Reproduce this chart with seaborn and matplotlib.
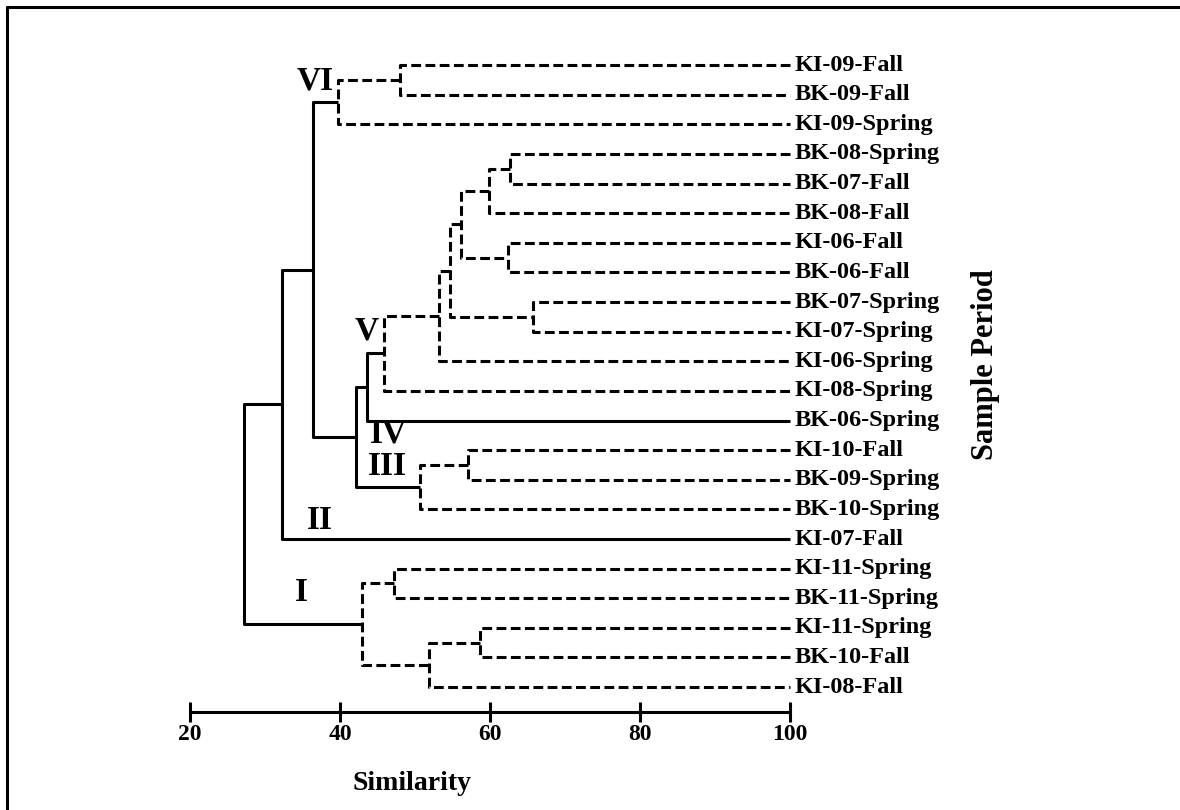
import numpy as np
import pandas as pd
import matplotlib
matplotlib.use("Agg")
import matplotlib.pyplot as plt
from matplotlib.lines import Line2D
import seaborn as sns

# ---------------- data ----------------
leaf_labels = [
    "KI-09-Fall", "BK-09-Fall", "KI-09-Spring", "BK-08-Spring", "BK-07-Fall",
    "BK-08-Fall", "KI-06-Fall", "BK-06-Fall", "BK-07-Spring", "KI-07-Spring",
    "KI-06-Spring", "KI-08-Spring", "BK-06-Spring", "KI-10-Fall", "BK-09-Spring",
    "BK-10-Spring", "KI-07-Fall", "KI-11-Spring", "BK-11-Spring", "KI-11-Spring",
    "BK-10-Fall", "KI-08-Fall",
]
# merges: node ids 22.. in order; children refer to leaf index (<22) or node id
merge_left = [0, 22, 3, 24, 6, 25, 8, 27, 29, 30, 31, 13, 33, 32, 23, 36, 17, 19, 39, 38, 37]
merge_right = [1, 2, 4, 5, 7, 26, 9, 28, 10, 11, 12, 14, 15, 34, 35, 16, 18, 20, 21, 40, 41]
merge_similarity = [48.0, 39.7, 62.7, 59.8, 62.4, 56.1, 65.7, 54.7, 53.2, 45.8, 43.6,
                    57.1, 50.7, 42.1, 36.4, 32.3, 47.2, 58.7, 51.9, 42.9, 27.2]
merge_kind = ["dashed", "dashed", "dashed", "dashed", "dashed", "dashed", "dashed",
              "dashed", "dashed", "dashed", "solid", "dashed", "dashed", "solid",
              "solid", "solid", "dashed", "dashed", "dashed", "dashed", "solid"]
cluster_names = ["VI", "V", "IV", "III", "II", "I"]
x_ticks = [20, 40, 60, 80, 100]
leaf_similarity = 100

# ---------------- build link table ----------------
n_leaves = len(leaf_labels)
pos = {i: float(i) for i in range(n_leaves)}
height = {i: float(leaf_similarity) for i in range(n_leaves)}
rows = []
for k, (a, b, h, kind) in enumerate(zip(merge_left, merge_right, merge_similarity, merge_kind)):
    node = n_leaves + k
    pos[node] = (pos[a] + pos[b]) / 2.0
    height[node] = h
    xs = [height[a], h, h, height[b]]
    ys = [pos[a], pos[a], pos[b], pos[b]]
    for order, (x, y) in enumerate(zip(xs, ys)):
        rows.append({"link": k, "order": order, "sim": x, "pos": y, "kind": kind})
links = pd.DataFrame(rows)

# ---------------- style ----------------
sns.set_theme(style="white")
plt.rcParams["font.family"] = ["Liberation Serif", "DejaVu Serif"]
plt.rcParams["font.weight"] = "bold"
plt.rcParams["text.color"] = "black"
plt.rcParams["axes.labelcolor"] = "black"
plt.rcParams["xtick.color"] = "black"
plt.rcParams["xtick.labelcolor"] = "black"

fig = plt.figure(figsize=(11.8, 8.1), dpi=100)
ax = fig.add_axes([190 / 1180, (810 - 712) / 810, 600 / 1180, (712 - 20.6) / 810])

sns.lineplot(
    data=links, x="sim", y="pos", units="link", style="kind",
    dashes={"solid": "", "dashed": (3.2, 1.45)},
    estimator=None, sort=False, color="black", linewidth=2.2,
    legend=False, ax=ax,
)
for line in ax.get_lines():
    line.set_clip_on(False)
    line.set_solid_capstyle("butt")

ax.set_xlim(20, 100)
ax.set_ylim(21.84, -1.5)
ax.set_xticks(x_ticks)
ax.set_xticklabels([str(t) for t in x_ticks], fontsize=17, fontweight="bold",
                   color="black")
ax.set_yticks([])
ax.set_xlabel("")
ax.set_ylabel("")
for side in ["top", "left", "right"]:
    ax.spines[side].set_visible(False)
ax.spines["bottom"].set_color("black")
ax.spines["bottom"].set_linewidth(2.2)
ax.tick_params(axis="x", direction="inout", length=14, width=2.2, color="black",
               pad=2, bottom=True)

# leaf labels
for i, lab in enumerate(leaf_labels):
    ax.text(100.6, i, lab, ha="left", va="center", fontsize=17.5,
            fontweight="bold", color="black")

# cluster labels (positions in data coordinates)
cluster_xy = [(36.7, 0.54), (43.6, 8.98), (46.5, 12.46), (46.3, 13.54),
              (37.3, 15.36), (34.9, 17.79)]
for name, (cx, cy) in zip(cluster_names, cluster_xy):
    ax.text(cx, cy, name, ha="center", va="center", fontsize=24,
            fontweight="bold", color="black")

fig.text(412 / 1180, (810 - 783) / 810, "Similarity", ha="center", va="center",
         fontsize=20, fontweight="bold", color="black")
fig.text(985 / 1180, (810 - 365) / 810, "Sample Period", ha="center", va="center",
         rotation=90, fontsize=22, fontweight="bold", color="black")

# frame (top and left)
fig.add_artist(Line2D([6.5 / 1180, 1.0], [1 - 6.5 / 810, 1 - 6.5 / 810],
                      transform=fig.transFigure, color="black", linewidth=2.2))
fig.add_artist(Line2D([6.5 / 1180, 6.5 / 1180], [0.0, 1 - 6.5 / 810],
                      transform=fig.transFigure, color="black", linewidth=2.2))

fig.savefig("out.png", dpi=100)
